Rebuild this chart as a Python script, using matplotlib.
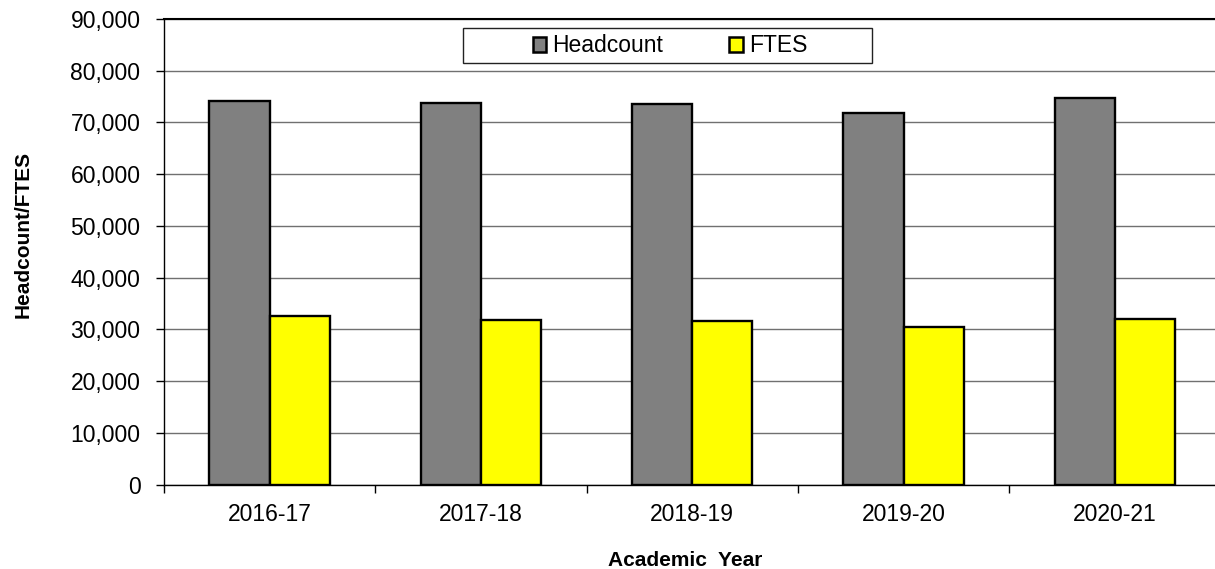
import matplotlib
matplotlib.use("Agg")
import matplotlib.pyplot as plt
from matplotlib.patches import Patch, Rectangle
from matplotlib.ticker import FuncFormatter, FixedLocator
import numpy as np

years = ["2016-17", "2017-18", "2018-19", "2019-20", "2020-21"]
headcount = [74150, 73680, 73620, 71800, 74700]
ftes = [32630, 31800, 31600, 30400, 32050]
series_names = ["Headcount", "FTES"]
series_colors = ["#808080", "#FFFF00"]

plt.rcParams['font.family'] = ['Liberation Sans', 'DejaVu Sans']

W, H = 1215, 569
fig = plt.figure(figsize=(W / 100, H / 100), dpi=100)
left, right, top, bottom = 164, 1220.5, 19, 484.5
ax = fig.add_axes([left / W, 1 - bottom / H, (right - left) / W, (bottom - top) / H])

x = np.arange(len(years))
bw = 0.285
ax.bar(x - bw / 2, headcount, width=bw, color=series_colors[0], edgecolor="black",
       linewidth=1.7, zorder=3)
ax.bar(x + bw / 2, ftes, width=bw, color=series_colors[1], edgecolor="black",
       linewidth=1.7, zorder=3)

ax.set_xlim(-0.5, len(years) - 0.5)
ax.set_ylim(0, 90000)
ax.set_yticks(np.arange(0, 90001, 10000))
ax.yaxis.set_major_formatter(FuncFormatter(lambda v, p: f"{int(v):,}"))
ax.yaxis.grid(True, color="#707070", linewidth=1.0, zorder=0)
ax.set_axisbelow(True)

ax.set_xticks(x)
ax.set_xticklabels(years)
ax.xaxis.set_minor_locator(FixedLocator(np.arange(-0.5, len(years), 1.0)))
ax.tick_params(axis="x", which="major", length=0, pad=13, labelsize=16.5)
ax.tick_params(axis="x", which="minor", length=5.5, width=1, direction="out")
ax.tick_params(axis="y", length=6, width=1, direction="out", pad=11, labelsize=16.5)

for s in ["left", "bottom", "top", "right"]:
    ax.spines[s].set_color("black")
    ax.spines[s].set_linewidth(1.0)
ax.spines["top"].set_linewidth(1.5)

fig.text(685 / W, 1 - 560 / H, "Academic  Year", ha="center", va="center",
         fontsize=15, fontweight="bold")
fig.text(23 / W, 1 - 234 / H, "Headcount/FTES", ha="center", va="center",
         rotation=90, fontsize=15, fontweight="bold")

# legend frame
fx0, fx1, fy0, fy1 = 462.7, 871.7, 28.3, 62.7
rect = Rectangle((fx0 / W, 1 - fy1 / H), (fx1 - fx0) / W, (fy1 - fy0) / H,
                 transform=fig.transFigure, facecolor="white", edgecolor="#222222",
                 linewidth=1.0, zorder=10)
fig.patches.append(rect)
handles = [Patch(facecolor=c, edgecolor="black", linewidth=1.8) for c in series_colors]
leg = fig.legend(handles, series_names, loc="center",
                 bbox_to_anchor=(670 / W, 1 - 46 / H), ncol=2, frameon=False,
                 fontsize=16.5, handlelength=0.6, handleheight=0.6,
                 handletextpad=0.25, columnspacing=2.9, borderpad=0)
leg.set_zorder(11)

fig.savefig("out.png", dpi=100)
